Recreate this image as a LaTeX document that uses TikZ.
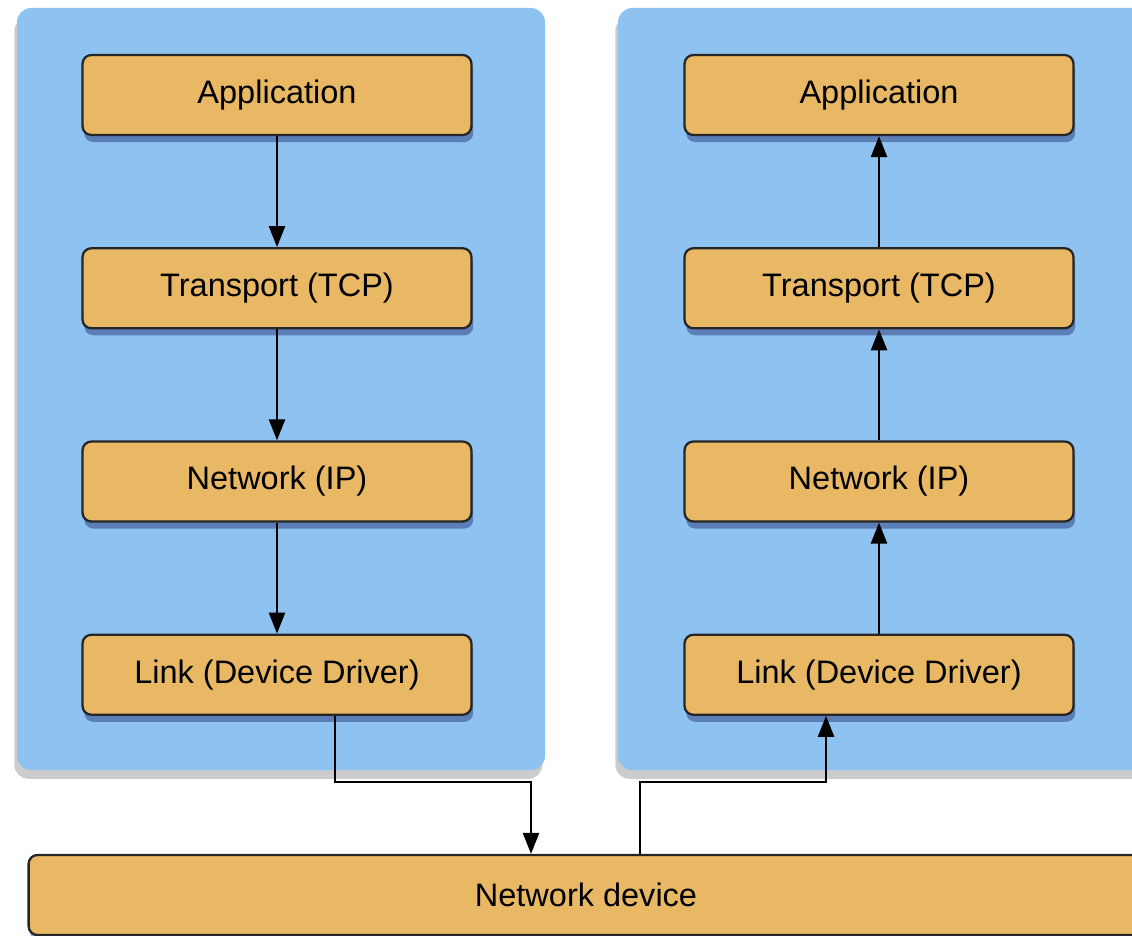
\documentclass[tikz,border=0pt]{standalone}
\usepackage{fontspec}
\setmainfont{Liberation Sans}
\usepackage{tikz}
\usetikzlibrary{shapes, arrows.meta, positioning, shadows}

\definecolor{hostblue}{RGB}{142,194,240}
\definecolor{layerorange}{RGB}{232,184,100}

\begin{document}
\begin{tikzpicture}[
			x=0.02cm, y={(0cm,-0.02cm)},
			node distance=2.22cm,
			host/.style={
				fill=hostblue,
				rounded corners=8pt,
				drop shadow={shadow xshift=-1.5pt, shadow yshift=-5pt, fill=black!50, opacity=0.4}
			},
			block/.style={
				rectangle,
				draw=black!85,
				fill=layerorange,
				minimum width=7.78cm,
				minimum height=1.6cm,
				text centered,
				rounded corners=5pt,
				font=\fontsize{18.5}{21}\selectfont,
				line width=1.3pt,
				drop shadow={shadow xshift=1pt, shadow yshift=-4pt, fill=black!70!blue, opacity=0.35}
			},
			arrow/.style={
				-{Triangle[length=0.42cm, width=0.32cm]},
				line width=1.4pt
			}
			]
			
			\path[use as bounding box, clip] (0,0) rectangle (1132,936);
			\fill[white] (0,0) rectangle (1132,936);
			
			% Host panels
			\path[host] (17,8) rectangle (545,770);
			\path[host] (618,8) rectangle (1160,770);
			
			% Left host: sending stack
			\node[block] (lapp) at (277,95) {Application};
			\node[block, below=of lapp] (ltcp) {Transport (TCP)};
			\node[block, below=of ltcp] (lip) {Network (IP)};
			\node[block, below=of lip] (llink) {Link (Device Driver)};
			
			\draw[arrow] (lapp) -- (ltcp);
			\draw[arrow] (ltcp) -- (lip);
			\draw[arrow] (lip) -- (llink);
			
			% Right host: receiving stack
			\node[block] (rapp) at (879,95) {Application};
			\node[block, below=of rapp] (rtcp) {Transport (TCP)};
			\node[block, below=of rtcp] (rip) {Network (IP)};
			\node[block, below=of rip] (rlink) {Link (Device Driver)};
			
			\draw[arrow] (rtcp) -- (rapp);
			\draw[arrow] (rip) -- (rtcp);
			\draw[arrow] (rlink) -- (rip);
			
			% Network device
			\node[block, drop shadow={opacity=0}, minimum width=22.3cm] (dev) at (586,895) {Network device};
			
			\coordinate (lout) at (335,782);
			\coordinate (lin) at (531,782);
			\coordinate (rout) at (640,782);
			\coordinate (rin) at (826,782);
			
			\draw[arrow] (llink.south -| lout) -- (lout) -- (lin) -- (dev.north -| lin);
			\draw[arrow] (dev.north -| rout) -- (rout) -- (rin) -- (rlink.south -| rin);
			
		\end{tikzpicture}
\end{document}
